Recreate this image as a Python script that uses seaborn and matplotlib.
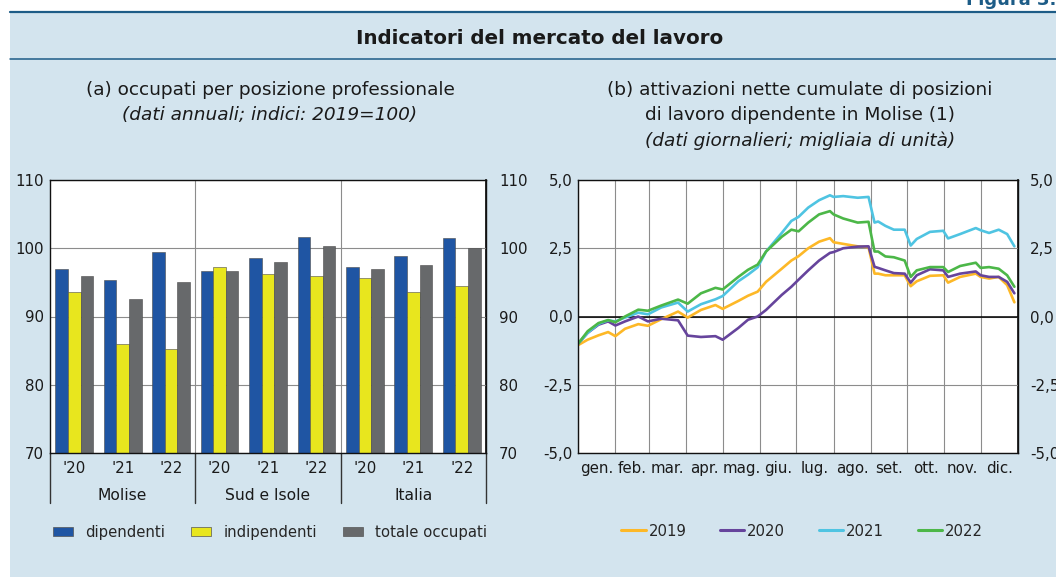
import numpy as np
import pandas as pd
import matplotlib
matplotlib.use("Agg")
import matplotlib.pyplot as plt
import matplotlib.transforms as mtransforms
from matplotlib.patches import Rectangle, Patch
from matplotlib.lines import Line2D
import seaborn as sns

# (a) occupati per posizione professionale (indici: 2019=100)
aree = ["Molise", "Sud e Isole", "Italia"]
anni = ["'20", "'21", "'22"]
serie_a = ["dipendenti", "indipendenti", "totale occupati"]
dipendenti = [96.9, 95.3, 99.5, 96.6, 98.5, 101.7, 97.3, 98.8, 101.5]
indipendenti = [93.6, 86.0, 85.3, 97.2, 96.2, 96.0, 95.6, 93.6, 94.5]
totale = [95.9, 92.5, 95.0, 96.7, 98.0, 100.4, 96.9, 97.6, 100.0]
ticks_a = [70, 80, 90, 100, 110]

# (b) attivazioni nette cumulate in Molise (migliaia), giorno dell'anno
giorni = [0, 8, 17, 25, 31, 39, 50, 58, 69, 83, 91, 102, 114, 120, 133,
          141, 149, 156, 169, 177, 183, 191, 200, 209, 212, 220, 232, 241,
          246, 249, 255, 262, 271, 276, 281, 292, 303, 307, 317, 330, 334,
          341, 349, 356, 362]
v2019 = [-1.05, -0.85, -0.69, -0.57, -0.72, -0.45, -0.28, -0.34, -0.10, 0.18,
         -0.04, 0.24, 0.42, 0.28, 0.57, 0.76, 0.91, 1.27, 1.75, 2.05, 2.21,
         2.50, 2.74, 2.87, 2.72, 2.66, 2.57, 2.54, 1.57, 1.57, 1.51, 1.51,
         1.51, 1.11, 1.29, 1.49, 1.51, 1.24, 1.45, 1.57, 1.45, 1.39, 1.45,
         1.15, 0.52]
v2020 = [-1.00, -0.60, -0.30, -0.18, -0.33, -0.18, 0.00, -0.18, -0.08, -0.14,
         -0.70, -0.75, -0.72, -0.85, -0.42, -0.12, 0.00, 0.24, 0.79, 1.09,
         1.35, 1.69, 2.05, 2.33, 2.36, 2.50, 2.56, 2.57, 1.82, 1.78, 1.69,
         1.59, 1.57, 1.24, 1.51, 1.73, 1.69, 1.45, 1.57, 1.65, 1.51, 1.45,
         1.45, 1.27, 0.85]
v2021 = [-1.00, -0.60, -0.27, -0.14, -0.18, -0.04, 0.14, 0.08, 0.33, 0.51,
         0.18, 0.45, 0.63, 0.75, 1.29, 1.53, 1.80, 2.38, 3.06, 3.50, 3.65,
         3.99, 4.26, 4.44, 4.38, 4.41, 4.35, 4.38, 3.44, 3.48, 3.32, 3.18,
         3.18, 2.60, 2.84, 3.10, 3.14, 2.86, 3.02, 3.24, 3.16, 3.06, 3.18,
         3.02, 2.57]
v2022 = [-1.00, -0.54, -0.24, -0.13, -0.21, 0.00, 0.25, 0.21, 0.40, 0.62,
         0.47, 0.85, 1.05, 0.99, 1.45, 1.71, 1.90, 2.38, 2.92, 3.18, 3.12,
         3.44, 3.74, 3.86, 3.74, 3.59, 3.44, 3.47, 2.38, 2.38, 2.20, 2.17,
         2.05, 1.45, 1.69, 1.81, 1.81, 1.63, 1.85, 1.97, 1.78, 1.81, 1.75,
         1.51, 1.09]
serie_b = ["2019", "2020", "2021", "2022"]
mesi = ["gen.", "feb.", "mar.", "apr.", "mag.", "giu.", "lug.", "ago.",
        "set.", "ott.", "nov.", "dic."]
inizio_mesi = [0, 31, 59, 90, 120, 151, 181, 212, 243, 273, 304, 334, 365]
ticks_b = [-5, -2.5, 0, 2.5, 5]
etichette_b = ["-5,0", "-2,5", "0,0", "2,5", "5,0"]

col_a = ["#1f55a3", "#e8e61e", "#67696b"]
col_b = ["#fdb827", "#66449c", "#4fc4e2", "#4cb748"]
sfondo = "#d3e4ee"
blu = "#1d5c87"
testo = "#1a1a1a"

sns.set_theme(style="white")
plt.rcParams["font.family"] = ["DejaVu Sans"]
plt.rcParams["font.size"] = 11

fig = plt.figure(figsize=(10.56, 5.77), dpi=100)
fig.patch.set_facecolor("white")

# pannello azzurro e linee di testata
fig.patches.append(Rectangle((10 / 1056, 0), 1, 1 - 12 / 577, transform=fig.transFigure,
                             facecolor=sfondo, edgecolor="none", zorder=-10))
fig.add_artist(Line2D([10 / 1056, 1], [1 - 12 / 577] * 2, transform=fig.transFigure,
                      color=blu, lw=1.6))
fig.add_artist(Line2D([10 / 1056, 1], [1 - 59 / 577] * 2, transform=fig.transFigure,
                      color=blu, lw=1.1))
fig.text(1.0, 1.0, "Figura 3.", ha="right", va="center", fontsize=13,
         fontweight="bold", color=blu)
fig.text(540 / 1056, 1 - 38 / 577, "Indicatori del mercato del lavoro", ha="center",
         va="center", fontsize=14.3, fontweight="bold", color=testo)

fig.text(270 / 1056, 1 - 90 / 577, "(a) occupati per posizione professionale",
         ha="center", va="center", fontsize=13.3, color=testo)
fig.text(270 / 1056, 1 - 115 / 577, "(dati annuali; indici: 2019=100)",
         ha="center", va="center", fontsize=13.3, style="italic", color=testo)
fig.text(800 / 1056, 1 - 90 / 577, "(b) attivazioni nette cumulate di posizioni",
         ha="center", va="center", fontsize=13.3, color=testo)
fig.text(800 / 1056, 1 - 115 / 577, "di lavoro dipendente in Molise (1)",
         ha="center", va="center", fontsize=13.3, color=testo)
fig.text(800 / 1056, 1 - 141 / 577, "(dati giornalieri; migliaia di unità)",
         ha="center", va="center", fontsize=13.3, style="italic", color=testo)

bottom = 1 - 453 / 577
height = (453 - 180) / 577
ax1 = fig.add_axes([50 / 1056, bottom, (486 - 50) / 1056, height])
ax2 = fig.add_axes([578 / 1056, bottom, (1018 - 578) / 1056, height])

# ---- pannello (a) ----
gruppi = [f"{a} {y}" for a in aree for y in anni]
df_a = pd.DataFrame({
    "gruppo": gruppi * 3,
    "serie": [s for s in serie_a for _ in gruppi],
    "valore": dipendenti + indipendenti + totale,
})
sns.barplot(data=df_a, x="gruppo", y="valore", hue="serie", order=gruppi,
            hue_order=serie_a, palette=col_a, saturation=1, width=0.78, gap=0,
            edgecolor="#4a4a4a", linewidth=0.4, legend=False, ax=ax1)
ax1.set_facecolor("white")
ax1.set_ylim(70, 110)
ax1.set_xlim(-0.5, 8.5)
ax1.set_yticks(ticks_a)
ax1.yaxis.grid(True, color="#8c8c8c", lw=0.8)
ax1.set_axisbelow(True)
for xs in [2.5, 5.5]:
    ax1.axvline(xs, color="#8c8c8c", lw=0.8, zorder=0)
ax1.set_xticks(range(9))
ax1.set_xticklabels(anni * 3)
ax1.set_xlabel("")
ax1.set_ylabel("")
ax1.tick_params(axis="x", length=0, pad=6, labelsize=10.8, colors=testo)
ax1.tick_params(axis="y", length=0, pad=4.5, labelsize=10.8, colors=testo)
dx1 = ax1.secondary_yaxis("right")
dx1.set_yticks(ticks_a)
dx1.tick_params(length=0, pad=9.5, labelsize=10.8, colors=testo)
dx1.spines["right"].set_color("#111111")
tr = mtransforms.blended_transform_factory(ax1.transData, ax1.transAxes)
for xs in [-0.5, 2.5, 5.5, 8.5]:
    ax1.plot([xs, xs], [0, -50 / 273], transform=tr, color="#333333", lw=1,
             clip_on=False)
for i, a in enumerate(aree):
    ax1.text(1 + 3 * i, -42 / 273, a, transform=tr, ha="center", va="center",
             fontsize=11.2, color=testo)

# ---- pannello (b) ----
df_b = pd.concat([
    pd.DataFrame({"giorno": giorni, "valore": v, "anno": s})
    for s, v in zip(serie_b, [v2019, v2020, v2021, v2022])
])
sns.lineplot(data=df_b, x="giorno", y="valore", hue="anno", hue_order=serie_b,
             palette=col_b, linewidth=1.9, estimator=None, errorbar=None,
             legend=False, ax=ax2)
ax2.set_facecolor("white")
ax2.set_xlim(0, 365)
ax2.set_ylim(-5, 5)
ax2.set_yticks(ticks_b)
ax2.set_yticklabels(etichette_b)
ax2.yaxis.grid(True, color="#8c8c8c", lw=0.8)
ax2.axhline(0, color="black", lw=1.1, zorder=1.5)
ax2.set_xticks(inizio_mesi, minor=True)
ax2.set_xticks([(inizio_mesi[i] + inizio_mesi[i + 1]) / 2 for i in range(12)])
ax2.set_xticklabels(mesi)
ax2.xaxis.grid(True, which="minor", color="#8c8c8c", lw=0.8)
ax2.set_axisbelow(True)
ax2.set_xlabel("")
ax2.set_ylabel("")
ax2.tick_params(axis="x", which="both", length=0, pad=6, labelsize=10.8,
                colors=testo)
ax2.tick_params(axis="y", length=0, labelsize=10.8, colors=testo, pad=4)
dx2 = ax2.secondary_yaxis("right")
dx2.set_yticks(ticks_b)
dx2.set_yticklabels(etichette_b)
dx2.tick_params(length=0, pad=8.5, labelsize=10.8, colors=testo)
dx2.spines["right"].set_color("#111111")

for ax in (ax1, ax2):
    for sp in ax.spines.values():
        sp.set_visible(True)
        sp.set_color("#111111")
        sp.set_linewidth(1.0)

# legende
h_a = [Patch(facecolor=c, edgecolor="#555555", lw=0.5) for c in col_a]
fig.legend(h_a, serie_a, loc="center left", bbox_to_anchor=(53 / 1056, 1 - 532 / 577),
           ncol=3, frameon=False, fontsize=10.7, handlelength=1.34, handleheight=0.54,
           handletextpad=0.8, columnspacing=1.8, borderaxespad=0, borderpad=0)
h_b = [Line2D([], [], color=c, lw=2.2) for c in col_b]
fig.legend(h_b, serie_b, loc="center left", bbox_to_anchor=(621 / 1056, 1 - 531 / 577),
           ncol=4, frameon=False, fontsize=10.7, handlelength=1.65,
           handletextpad=0.2, columnspacing=2.25, borderaxespad=0, borderpad=0)

fig.savefig("out.png", dpi=100, facecolor=fig.get_facecolor())
